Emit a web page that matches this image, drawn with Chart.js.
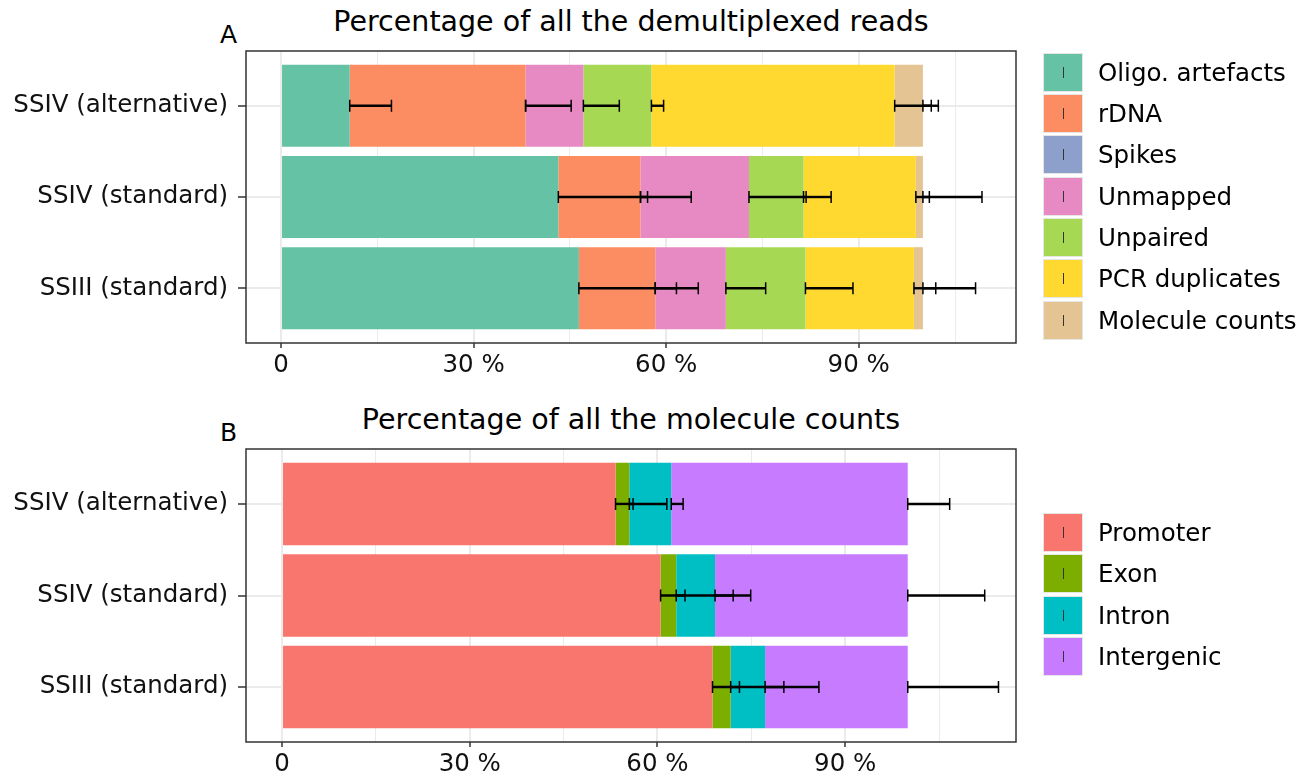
<!DOCTYPE html>
<html>
<head>
<meta charset="utf-8">
<script src="https://cdn.jsdelivr.net/npm/chart.js@4.4.0/dist/chart.umd.min.js"></script>
<style>
  body { margin:0; background:#fff; font-family:"DejaVu Sans", sans-serif; }
  #wrap { position:relative; width:1311px; height:773px; overflow:hidden; background:#fff; }
  canvas { position:absolute; left:0; }
  .title { position:absolute; left:246px; width:770px; text-align:center; font-size:28.5px; line-height:34px; color:#000; white-space:nowrap; }
  .tag { position:absolute; left:220px; font-size:25px; line-height:30px; color:#000; }
  .legend { position:absolute; left:1043px; }
  .row { display:flex; align-items:center; height:39px; margin-bottom:2.4px; }
  .key { position:relative; width:38px; height:37px; border:1px solid #e6e6e6; box-sizing:content-box; }
  .key::after { content:""; position:absolute; left:18.5px; top:13px; width:1.3px; height:11px; background:#333; }
  .lab { margin-left:15px; font-size:24.5px; color:#000; white-space:nowrap; }
</style>
</head>
<body>
<div id="wrap">
  <div class="title" style="top:5px">Percentage of all the demultiplexed reads</div>
  <div class="tag" style="top:20px">A</div>
  <canvas id="chartA" width="1311" height="390" style="top:0"></canvas>
  <div class="legend" id="legendA" style="top:52.5px"></div>

  <div class="title" style="top:403px">Percentage of all the molecule counts</div>
  <div class="tag" style="top:418px">B</div>
  <canvas id="chartB" width="1311" height="373" style="top:400px"></canvas>
  <div class="legend" id="legendB" style="top:513px"></div>
</div>
<script>
const categories = ["SSIV (alternative)", "SSIV (standard)", "SSIII (standard)"];
const xTicks = [0, 15, 30, 45, 60, 75, 90, 105];

// panel A: share of demultiplexed reads (%), one value per library
const readClasses = ["Oligo. artefacts", "rDNA", "Spikes", "Unmapped", "Unpaired", "PCR duplicates", "Molecule counts"];
const readColors = ["#66C2A5", "#FC8D62", "#8DA0CB", "#E78AC3", "#A6D854", "#FFD92F", "#E5C494"];
const oligo     = [10.7, 43.2, 46.4];
const rdna      = [27.4, 12.8, 11.9];
const spikes    = [0, 0, 0];
const unmapped  = [9.0, 16.9, 11.0];
const unpaired  = [10.6, 8.5, 12.4];
const pcrDup    = [37.9, 17.5, 16.9];
const molCounts = [4.4, 1.1, 1.4];
// error bar lengths
const oligoSd     = [6.5, 13.9, 15.2];
const rdnaSd      = [7.1, 7.9, 6.7];
const spikesSd    = [0, 0, 0];
const unmappedSd  = [5.6, 8.9, 6.2];
const unpairedSd  = [1.9, 4.3, 7.4];
const pcrDupSd    = [5.7, 2.1, 3.4];
const molCountsSd = [2.4, 9.2, 8.2];

// panel B: share of molecule counts (%)
const featClasses = ["Promoter", "Exon", "Intron", "Intergenic"];
const featColors = ["#F8766D", "#7CAE00", "#00BFC4", "#C77CFF"];
const promoter   = [53.3, 60.5, 68.8];
const exon       = [2.2, 2.5, 2.9];
const intron     = [6.7, 6.2, 5.5];
const intergenic = [37.8, 30.8, 22.8];
const promoterSd   = [2.8, 14.4, 17.0];
const exonSd       = [6.0, 1.4, 1.4];
const intronSd     = [1.9, 2.9, 3.0];
const intergenicSd = [6.7, 12.3, 14.5];

const grey92 = "#EBEBEB", grey20 = "#333333";

function makeSets(values, sds, colors, names){
  return values.map((vals, i) => ({
    label: names[i],
    data: vals.map((v, j) => ({ x: v, y: j + 1 })),
    sd: sds[i],
    backgroundColor: colors[i],
    borderWidth: 0,
    categoryPercentage: 1,
    barPercentage: 0.9
  }));
}

// stacked error bars (from the segment end to end + sd) and panel frame
const errorBars = {
  id: "errorBars",
  afterDatasetsDraw(chart){
    const { ctx, chartArea: a } = chart;
    const x = chart.scales.x, y = chart.scales.y;
    ctx.save();
    ctx.strokeStyle = "#000";
    categories.forEach((c, j) => {
      const py = y.getPixelForValue(j + 1);
      let cum = 0;
      chart.data.datasets.forEach(ds => {
        cum += ds.data[j].x;
        const x0 = x.getPixelForValue(cum), x1 = x.getPixelForValue(cum + ds.sd[j]);
        ctx.lineWidth = 2.4;
        ctx.beginPath(); ctx.moveTo(x0, py); ctx.lineTo(x1, py); ctx.stroke();
        ctx.lineWidth = 1.5;
        ctx.beginPath();
        ctx.moveTo(x0, py - 6); ctx.lineTo(x0, py + 6);
        ctx.moveTo(x1, py - 6); ctx.lineTo(x1, py + 6);
        ctx.stroke();
      });
    });
    ctx.lineWidth = 1.5;
    ctx.strokeStyle = grey20;
    ctx.strokeRect(a.left, a.top, a.width, a.height);
    ctx.restore();
  }
};

function options(xMin, xMax, padTop, axisH){
  return {
    indexAxis: "y",
    responsive: false,
    animation: false,
    layout: { padding: { left: 0, right: 295, top: padTop, bottom: 0 } },
    plugins: { legend: { display: false }, tooltip: { enabled: false } },
    scales: {
      x: {
        type: "linear", stacked: true, min: xMin, max: xMax,
        afterBuildTicks: s => { s.ticks = xTicks.map(v => ({ value: v })); },
        afterFit: s => { s.height = axisH; },
        border: { display: false },
        grid: {
          color: grey92,
          lineWidth: c => (c.tick && c.tick.value % 30 === 0) ? 2 : 1,
          tickColor: c => (c.tick && c.tick.value % 30 === 0) ? grey20 : "rgba(0,0,0,0)",
          tickWidth: 1.5, tickLength: 5
        },
        ticks: {
          autoSkip: false, maxRotation: 0, padding: 3, color: "#111",
          font: { family: "DejaVu Sans", size: 24.5 },
          callback: v => v % 30 === 0 ? (v === 0 ? "0" : v + " %") : ""
        }
      },
      y: {
        type: "linear", stacked: true, min: 0.4, max: 3.6, reverse: true, offset: false,
        afterBuildTicks: s => { s.ticks = categories.map((c, i) => ({ value: i + 1 })); },
        afterFit: s => { s.width = 246; },
        border: { display: false },
        grid: { offset: false, color: grey92, lineWidth: 2, tickColor: grey20, tickWidth: 1.5, tickLength: 8 },
        ticks: {
          autoSkip: false, padding: 10, color: "#111",
          font: { family: "DejaVu Sans", size: 24.5 },
          callback: v => categories[v - 1] || ""
        }
      }
    }
  };
}

new Chart(document.getElementById("chartA"), {
  type: "bar",
  data: { datasets: makeSets(
    [oligo, rdna, spikes, unmapped, unpaired, pcrDup, molCounts],
    [oligoSd, rdnaSd, spikesSd, unmappedSd, unpairedSd, pcrDupSd, molCountsSd],
    readColors, readClasses) },
  options: options(-5.46, 114.5, 51, 47),
  plugins: [errorBars]
});

new Chart(document.getElementById("chartB"), {
  type: "bar",
  data: { datasets: makeSets(
    [promoter, exon, intron, intergenic],
    [promoterSd, exonSd, intronSd, intergenicSd],
    featColors, featClasses) },
  options: options(-5.76, 117.3, 49, 31),
  plugins: [errorBars]
});

function legend(el, names, colors){
  document.getElementById(el).innerHTML = names.map((n, i) =>
    `<div class="row"><div class="key" style="background:${colors[i]}"></div><div class="lab">${n}</div></div>`).join("");
}
legend("legendA", readClasses, readColors);
legend("legendB", featClasses, featColors);
</script>
</body>
</html>
